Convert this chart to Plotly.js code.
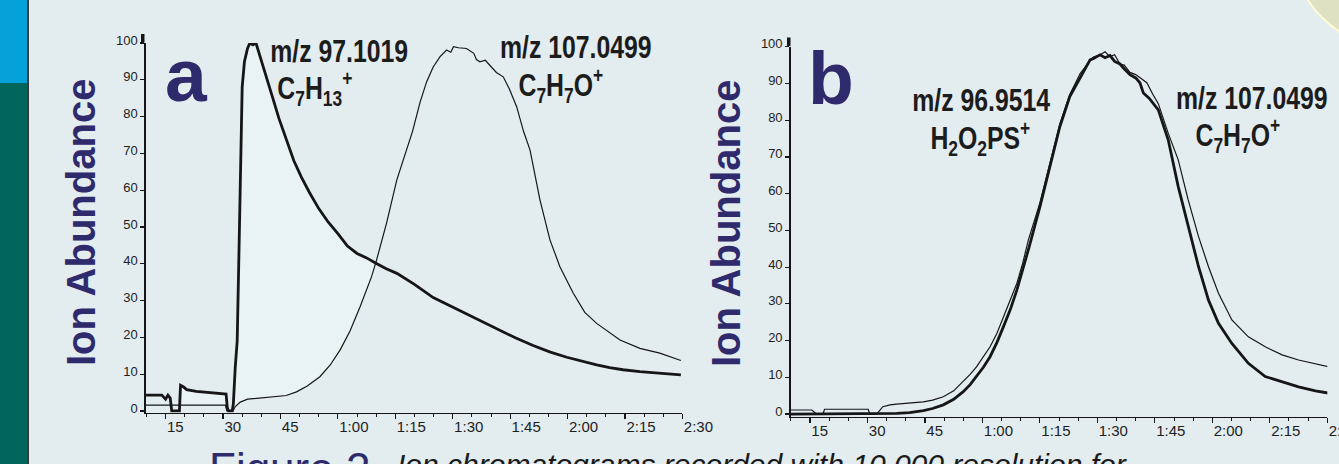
<!DOCTYPE html>
<html>
<head>
<meta charset="utf-8">
<script src="https://cdn.plot.ly/plotly-3.0.1.min.js"></script>
<style>
html,body{margin:0;padding:0;background:#e3ecef;overflow:hidden;}
#chart{width:1339px;height:464px;}
</style>
</head>
<body>
<div id="chart"></div>
<script>
// ---------- DATA (time in seconds, ion abundance in %) ----------
const tickVals = [15, 30, 45, 60, 75, 90, 105, 120, 135, 150];
const tickText = ["15", "30", "45", "1:00", "1:15", "1:30", "1:45", "2:00", "2:15", "2:30"];
const yTickVals = [0, 10, 20, 30, 40, 50, 60, 70, 80, 90, 100];

// Panel a: m/z 97.1019 (C7H13+), thick trace
const aC7H13_t = [9.8,14.0,15.0,15.6,16.2,16.6,18.6,18.9,19.6,20.5,23,27,30.8,31.1,31.4,32.4,32.7,33.2,33.7,34.2,34.7,35.0,35.6,36.4,37.0,37.8,38.6,39.5,41.4,43.0,44.6,46.6,48.5,50.5,52.5,55.0,57.5,60.0,62.5,65.0,67.5,69.7,72.5,75.4,80,84.9,88.4,91,93.6,95.4,98,102.3,106.5,111,115.5,119.8,124,127.6,131,134.5,138.9,144,149.6];
const aC7H13_y = [4.3,4.3,3.2,4.3,3.5,0,0,7.0,6.6,5.8,5.3,4.9,4.6,1.0,0,0,2,12,19,45,71,88,95,98.5,100,99.5,100,97,91,85,79.5,73.5,68,63.5,59.5,55,51.3,48.2,44.8,42.8,41.6,40.3,38.7,37.4,34.4,30.8,29.0,27.6,26.3,25.4,24.0,21.8,19.8,17.8,16.0,14.6,13.4,12.5,11.8,11.2,10.7,10.2,9.8];

// Panel a: m/z 107.0499 (C7H7O+), thin trace
const aC7H7O_t = [9.8,30.6,31.0,32.6,33.2,34.5,36.4,40,44,46.5,49.2,52,55.3,58,60.6,63.2,65.8,68.8,70.1,72.7,75.4,78,79.5,81.5,83.2,84.9,86.7,88.4,89.5,90.2,91.5,93.6,95.5,96.2,97.1,98.5,100.6,101.4,103.2,104.8,106.7,108.5,110.2,112.8,115.4,118,121.5,124.5,127.6,133.7,138.9,144.1,149.6];
const aC7H7O_y = [1.6,1.6,0,0,1.2,2.4,3.2,3.6,3.9,4.2,5.2,6.8,9.3,12.5,16.6,21.8,28.3,36.5,41,51,62.8,70.9,76,84,89.5,93.5,96.3,98.1,97.5,99,98.7,98.5,97.2,95.5,94.9,95.3,93.1,92.0,90.8,87.5,82.7,76,70.9,57.3,46.5,39.2,32,26.8,23.8,19.3,17,15.7,13.7];

// Panel b: m/z 96.9514 (H2O2PS+), thick trace
const bH2O2PS_t = [10,32,37.6,41,44.6,47,49.8,52.5,55,56.8,58.5,60.3,62,63.8,65.5,67.3,69,70.5,72.2,75,77.6,80.2,82.8,85.5,86.5,88.1,89,90.7,92,93.3,94.5,95.9,97,98.5,100,101.1,102,103.5,105.9,108.5,111.1,113.7,116.4,119,121.6,125.1,129.4,133.8,138.2,142.5,146.9,150.3];
const bH2O2PS_y = [0,0,0.2,0.4,0.9,1.5,2.5,4.0,6.1,8.0,10.2,12.8,15.6,19.5,23.8,28.5,33.8,39,45.5,56.4,67.3,78.2,86.4,91.5,93,96.4,96.8,97.8,97,97.6,96,95.3,94,92.4,91.5,90.2,87.4,86,82.8,74.6,61.9,51,40.1,31,24.7,19.2,13.8,10.2,8.8,7.4,6.3,5.7];

// Panel b: m/z 107.0499 (C7H7O+), thin trace
const bC7H7O_t = [10,15.5,16.7,18.4,18.8,30.2,30.6,32.4,34,35.9,37.6,41,44.6,47,49.8,52.5,55,56.8,58.5,60.3,62,63.8,65.5,67.3,69,70.5,72,75,77.6,80.2,82.8,85.5,86.5,88.1,89,90.7,92,93.3,94.5,95.9,97,98.5,100,101.1,102.9,104.5,105.9,108.5,111.1,113.7,116.4,119,121.6,125.1,129.4,133.8,138.2,142.5,146.9,150.3];
const bC7H7O_y = [1.1,1.1,0,0,1.3,1.3,0,0,2.0,2.5,2.7,3.0,3.3,3.8,4.7,6.3,8.8,10.8,12.9,15.5,18.3,22,26.5,31,35.6,41,47.4,57.5,68.5,79,87,92.7,94,96.4,97.2,97.8,98.6,97.3,97.8,95.3,95,93,92.4,91.5,90.2,87,84.5,76.4,69.2,58.3,48.3,40.1,32.9,25.6,21,18.3,16.1,14.7,13.8,12.9];

// ---------- LAYOUT HELPERS ----------
const W = 1339, H = 464;
const PX = v => v / W;
const PY = v => 1 - v / H;
const NAVY = "#2e2a6c";
const INK = "#161616";
const sans = "Liberation Sans, Arial, sans-serif";

// light fill inside the C7H13+ peak (where the thick trace is above the thin trace)
const crossT = 69.7;
const fillX = [], fillY = [];
aC7H13_t.forEach((t, i) => { if (t >= 18.9 && t <= crossT) { fillX.push(t); fillY.push(aC7H13_y[i]); } });
for (let i = aC7H7O_t.length - 1; i >= 0; i--) {
  if (aC7H7O_t[i] >= 18.9 && aC7H7O_t[i] <= crossT) { fillX.push(aC7H7O_t[i]); fillY.push(aC7H7O_y[i]); }
}
fillX.push(18.9); fillY.push(1.6);

const traces = [
  {x: fillX, y: fillY, xaxis: "x", yaxis: "y", mode: "lines", fill: "toself",
   fillcolor: "rgba(240,252,250,0.42)", line: {width: 0}, hoverinfo: "skip"},
  {x: aC7H7O_t, y: aC7H7O_y, xaxis: "x", yaxis: "y", mode: "lines", line: {color: INK, width: 1.2}},
  {x: aC7H13_t, y: aC7H13_y, xaxis: "x", yaxis: "y", mode: "lines", line: {color: INK, width: 2.8}},
  {x: bC7H7O_t, y: bC7H7O_y, xaxis: "x2", yaxis: "y2", mode: "lines", line: {color: INK, width: 1.2}},
  {x: bH2O2PS_t, y: bH2O2PS_y, xaxis: "x2", yaxis: "y2", mode: "lines", line: {color: INK, width: 2.8}}
];

function xAxis(domain, range, anchor) {
  return {
    domain: domain, range: range, anchor: anchor,
    tickmode: "array", tickvals: tickVals, ticktext: tickText,
    ticks: "outside", ticklen: 5, tickwidth: 1.2, tickcolor: INK,
    ticklabelposition: "outside right", ticklabeloverflow: "allow",
    minor: {tickmode: "linear", tick0: 0, dtick: 5, ticks: "outside", ticklen: 3, tickwidth: 1, tickcolor: INK, showgrid: false},
    showline: true, linecolor: INK, linewidth: 1.6,
    showgrid: false, zeroline: false, fixedrange: true,
    tickfont: {family: sans, size: 15, color: "#1e1e1e"}
  };
}
function yAxis(domain, range, anchor) {
  return {
    domain: domain, range: range, anchor: anchor,
    tickmode: "array", tickvals: yTickVals,
    ticks: "outside", ticklen: 4, tickwidth: 1.2, tickcolor: INK,
    ticklabelshift: -3,
    showline: true, linecolor: INK, linewidth: 1.6,
    showgrid: false, zeroline: false, fixedrange: true,
    tickfont: {family: sans, size: 13, color: "#1e1e1e"}
  };
}

function label(text, x, y, size, opts) {
  return Object.assign({
    text: text, xref: "paper", yref: "paper", x: PX(x), y: PY(y),
    xanchor: "center", yanchor: "middle", showarrow: false,
    font: {family: sans, size: size, color: "#1c1c1c"}
  }, opts || {});
}

const annotations = [
  label("<b>Ion Abundance</b>", 81, 223, 40, {textangle: -90, font: {family: sans, size: 40, color: NAVY}}),
  label("<b>Ion Abundance</b>", 726, 223, 40, {textangle: -90, font: {family: sans, size: 40, color: NAVY}}),
  label("<b>a</b>", 186, 75, 75, {font: {family: sans, size: 75, color: NAVY}}),
  label("<b>b</b>", 831, 78, 75, {font: {family: sans, size: 75, color: NAVY}}),
  label("<b>m/z 97.1019</b>", 339, 52, 31),
  label("<b>C<sub>7</sub>H<sub>13</sub><sup>+</sup></b>", 315, 88, 31),
  label("<b>m/z 107.0499</b>", 576, 48, 31),
  label("<b>C<sub>7</sub>H<sub>7</sub>O<sup>+</sup></b>", 561, 86, 31),
  label("<b>m/z 96.9514</b>", 981, 101, 31),
  label("<b>H<sub>2</sub>O<sub>2</sub>PS<sup>+</sup></b>", 980, 139, 31),
  label("<b>m/z 107.0499</b>", 1252, 98, 31),
  label("<b>C<sub>7</sub>H<sub>7</sub>O<sup>+</sup></b>", 1238, 135, 31),
  label("Figure 2", 207, 442, 44, {xanchor: "left", yanchor: "top", font: {family: sans, size: 44, color: NAVY}}),
  label("<i>Ion chromatograms recorded with 10,000 resolution for</i>", 395, 446, 30,
        {xanchor: "left", yanchor: "top", font: {family: sans, size: 30, color: "#1a1a1a"}})
];
// indices of the condensed (narrow bold) labels
const condensed = [4, 5, 6, 7, 8, 9, 10, 11];

const shapes = [
  // left decorative strip
  {type: "rect", xref: "paper", yref: "paper", x0: 0, x1: PX(27), y0: 1, y1: PY(83), fillcolor: "#05a2da", line: {width: 0}, layer: "below"},
  {type: "rect", xref: "paper", yref: "paper", x0: 0, x1: PX(27), y0: PY(83), y1: 0, fillcolor: "#01655c", line: {width: 0}, layer: "below"},
  {type: "line", xref: "paper", yref: "paper", x0: PX(28), x1: PX(28), y0: 0, y1: 1, line: {color: "#3b3b3b", width: 2}},
  // pale circle in the top-right corner
  {type: "circle", xref: "paper", yref: "paper", x0: PX(1290), x1: PX(1510), y0: PY(50), y1: PY(-170),
   fillcolor: "#dfe1c3", line: {color: "#fffbd2", width: 2}, layer: "below"},
  // small marks next to the "100" labels
  {type: "rect", xref: "paper", yref: "paper", x0: PX(141), x1: PX(144.5), y0: PY(42.5), y1: PY(34), fillcolor: INK, line: {width: 0}},
  {type: "rect", xref: "paper", yref: "paper", x0: PX(787), x1: PX(790.5), y0: PY(46), y1: PY(37.5), fillcolor: INK, line: {width: 0}}
];

const layout = {
  width: W, height: H,
  margin: {l: 0, r: 0, t: 0, b: 0},
  paper_bgcolor: "#e3ecef",
  plot_bgcolor: "rgba(0,0,0,0)",
  showlegend: false,
  xaxis: xAxis([PX(145.9), PX(682.4)], [9.85, 150], "y"),
  yaxis: yAxis([PY(412.8), PY(43)], [-0.5, 100], "x"),
  xaxis2: xAxis([PX(790.8), PX(1327.3)], [10, 150], "y2"),
  yaxis2: yAxis([PY(416.6), PY(46.7)], [-0.7, 100], "x2"),
  annotations: annotations,
  shapes: shapes
};

Plotly.newPlot("chart", traces, layout, {displayModeBar: false, staticPlot: true}).then(gd => {
  gd.querySelectorAll("g.annotation").forEach(g => {
    const idx = +g.getAttribute("data-index");
    if (condensed.indexOf(idx) >= 0) {
      const t = g.querySelector("text.annotation-text");
      if (t) {
        t.style.transformBox = "fill-box";
        t.style.transformOrigin = "center";
        t.style.transform = "scaleX(0.8)";
      }
    }
  });
});
</script>
</body>
</html>
